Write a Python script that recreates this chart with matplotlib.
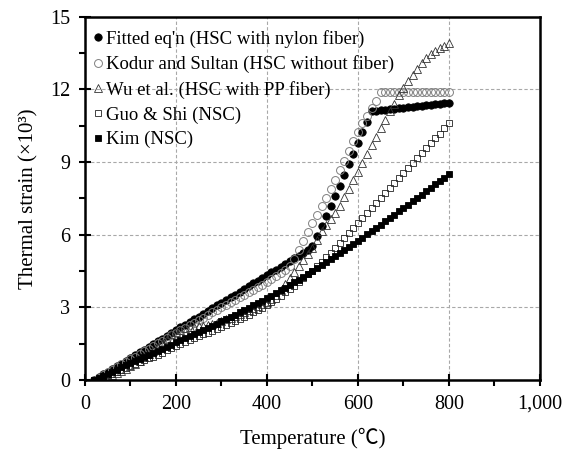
import matplotlib
matplotlib.use('Agg')
import matplotlib.pyplot as plt
from matplotlib.ticker import MultipleLocator, FuncFormatter

# temperature steps (deg C)
temps = list(range(20, 810, 10))

fitted = [0.00, 0.11, 0.23, 0.34, 0.46, 0.57, 0.68, 0.80, 0.91, 1.03,
          1.14, 1.25, 1.37, 1.48, 1.60, 1.71, 1.82, 1.94, 2.05, 2.17,
          2.28, 2.39, 2.51, 2.62, 2.74, 2.85, 2.96, 3.08, 3.19, 3.31,
          3.42, 3.53, 3.65, 3.76, 3.88, 3.99, 4.10, 4.22, 4.33, 4.45,
          4.56, 4.67, 4.79, 4.90, 5.02, 5.13, 5.24, 5.36, 5.55, 5.95,
          6.36, 6.77, 7.18, 7.60, 8.03, 8.47, 8.91, 9.35, 9.80, 10.23,
          10.66, 11.10, 11.13, 11.15, 11.17, 11.19, 11.21, 11.23, 11.25, 11.27,
          11.29, 11.31, 11.33, 11.35, 11.37, 11.39, 11.41, 11.43, 11.45]

kodur = [0.00, 0.10, 0.21, 0.32, 0.43, 0.54, 0.65, 0.75, 0.86, 0.97,
         1.08, 1.19, 1.30, 1.40, 1.51, 1.62, 1.73, 1.84, 1.95, 2.05,
         2.16, 2.26, 2.37, 2.47, 2.58, 2.68, 2.79, 2.89, 3.00, 3.10,
         3.21, 3.31, 3.42, 3.52, 3.63, 3.73, 3.84, 3.94, 4.05, 4.16,
         4.28, 4.41, 4.55, 4.72, 5.00, 5.38, 5.75, 6.12, 6.48, 6.83,
         7.18, 7.53, 7.90, 8.28, 8.67, 9.06, 9.46, 9.86, 10.26, 10.62,
         10.92, 11.22, 11.52, 11.90, 11.90, 11.90, 11.90, 11.90, 11.90, 11.90,
         11.90, 11.90, 11.90, 11.90, 11.90, 11.90, 11.90, 11.90, 11.90]

wu = [0.00, 0.02, 0.06, 0.12, 0.20, 0.28, 0.37, 0.47, 0.57, 0.68,
      0.80, 0.93, 1.06, 1.20, 1.35, 1.52, 1.70, 1.88, 2.00, 2.08,
      2.13, 2.17, 2.20, 2.22, 2.25, 2.28, 2.31, 2.36, 2.43, 2.50,
      2.57, 2.64, 2.72, 2.80, 2.88, 2.96, 3.04, 3.12, 3.22, 3.35,
      3.52, 3.72, 3.95, 4.20, 4.45, 4.70, 4.95, 5.20, 5.45, 5.80,
      6.15, 6.40, 6.65, 6.90, 7.20, 7.55, 7.90, 8.25, 8.60, 8.95,
      9.35, 9.70, 10.05, 10.40, 10.75, 11.10, 11.40, 11.75, 12.05, 12.35,
      12.60, 12.85, 13.10, 13.30, 13.45, 13.60, 13.70, 13.80, 13.90]

guo = [0.00, 0.06, 0.12, 0.19, 0.26, 0.33, 0.41, 0.49, 0.57, 0.65,
       0.73, 0.81, 0.89, 0.97, 1.05, 1.13, 1.22, 1.31, 1.40, 1.48,
       1.56, 1.64, 1.72, 1.80, 1.88, 1.96, 2.04, 2.12, 2.20, 2.28,
       2.36, 2.44, 2.52, 2.61, 2.70, 2.79, 2.89, 2.99, 3.10, 3.22,
       3.35, 3.48, 3.62, 3.76, 3.90, 4.05, 4.20, 4.36, 4.52, 4.70,
       4.88, 5.07, 5.26, 5.46, 5.66, 5.86, 6.06, 6.27, 6.48, 6.68,
       6.88, 7.09, 7.30, 7.50, 7.71, 7.92, 8.12, 8.33, 8.54, 8.74,
       8.95, 9.15, 9.36, 9.57, 9.77, 9.98, 10.18, 10.39, 10.60]

kim = [0.00, 0.09, 0.17, 0.26, 0.34, 0.43, 0.52, 0.60, 0.69, 0.77,
       0.86, 0.95, 1.03, 1.12, 1.20, 1.29, 1.38, 1.46, 1.55, 1.64,
       1.72, 1.81, 1.90, 1.98, 2.07, 2.16, 2.24, 2.33, 2.42, 2.51,
       2.60, 2.70, 2.79, 2.89, 2.98, 3.08, 3.18, 3.27, 3.37, 3.48,
       3.59, 3.70, 3.81, 3.93, 4.04, 4.15, 4.27, 4.38, 4.50, 4.62,
       4.74, 4.87, 4.99, 5.12, 5.24, 5.37, 5.49, 5.62, 5.75, 5.88,
       6.02, 6.15, 6.29, 6.42, 6.56, 6.69, 6.83, 6.96, 7.10, 7.24,
       7.38, 7.52, 7.66, 7.80, 7.94, 8.08, 8.22, 8.36, 8.50]

labels = ["Fitted eq'n (HSC with nylon fiber)",
          "Kodur and Sultan (HSC without fiber)",
          "Wu et al. (HSC with PP fiber)",
          "Guo & Shi (NSC)",
          "Kim (NSC)"]

plt.rcParams['font.family'] = ['Liberation Serif', 'Noto Sans CJK SC', 'DejaVu Serif']

fig = plt.figure(figsize=(5.66, 4.54), dpi=100)
ax = fig.add_axes([0.150, 0.163, 0.804, 0.800])

ax.plot(temps, fitted, 'o', ms=5.3, mfc='black', mec='black', mew=0.6, label=labels[0])
ax.plot(temps, kodur, 'o', ms=5.7, mfc='none', mec='#7f7f7f', mew=0.7, label=labels[1])
ax.plot(temps, wu, '^', ms=5.7, mfc='none', mec='#333333', mew=0.6, label=labels[2])
ax.plot(temps, guo, 's', ms=4.5, mfc='none', mec='#222222', mew=0.6, label=labels[3])
ax.plot(temps, kim, 's', ms=4.5, mfc='black', mec='black', mew=0.6, label=labels[4])

ax.set_xlim(0, 1000)
ax.set_ylim(0, 15)
ax.xaxis.set_major_locator(MultipleLocator(200))
ax.xaxis.set_minor_locator(MultipleLocator(100))
ax.yaxis.set_major_locator(MultipleLocator(3))
ax.yaxis.set_minor_locator(MultipleLocator(1.5))
ax.xaxis.set_major_formatter(FuncFormatter(lambda v, p: '{:,.0f}'.format(v)))

ax.grid(True, which='major', color='#a8a8a8', linestyle=(0, (3, 2)), linewidth=0.8)
ax.set_axisbelow(True)

for sp in ax.spines.values():
    sp.set_linewidth(1.8)
    sp.set_color('black')

ax.tick_params(which='major', direction='inout', length=9, width=1.5,
               labelsize=14.5, top=False, right=False, pad=6)
ax.tick_params(which='minor', direction='out', length=4, width=1.5,
               top=False, right=False)

ax.set_xlabel('Temperature (℃)', fontsize=15, labelpad=10)
ax.set_ylabel('Thermal strain (×10³)', fontsize=15, labelpad=8)

ax.legend(loc='upper left', bbox_to_anchor=(-0.009, 0.9945), frameon=False,
          fontsize=13.5, numpoints=1, handlelength=0.6, handletextpad=0.15,
          labelspacing=0.4, borderaxespad=0.3, borderpad=0.3)

fig.savefig('out.png', dpi=100)
